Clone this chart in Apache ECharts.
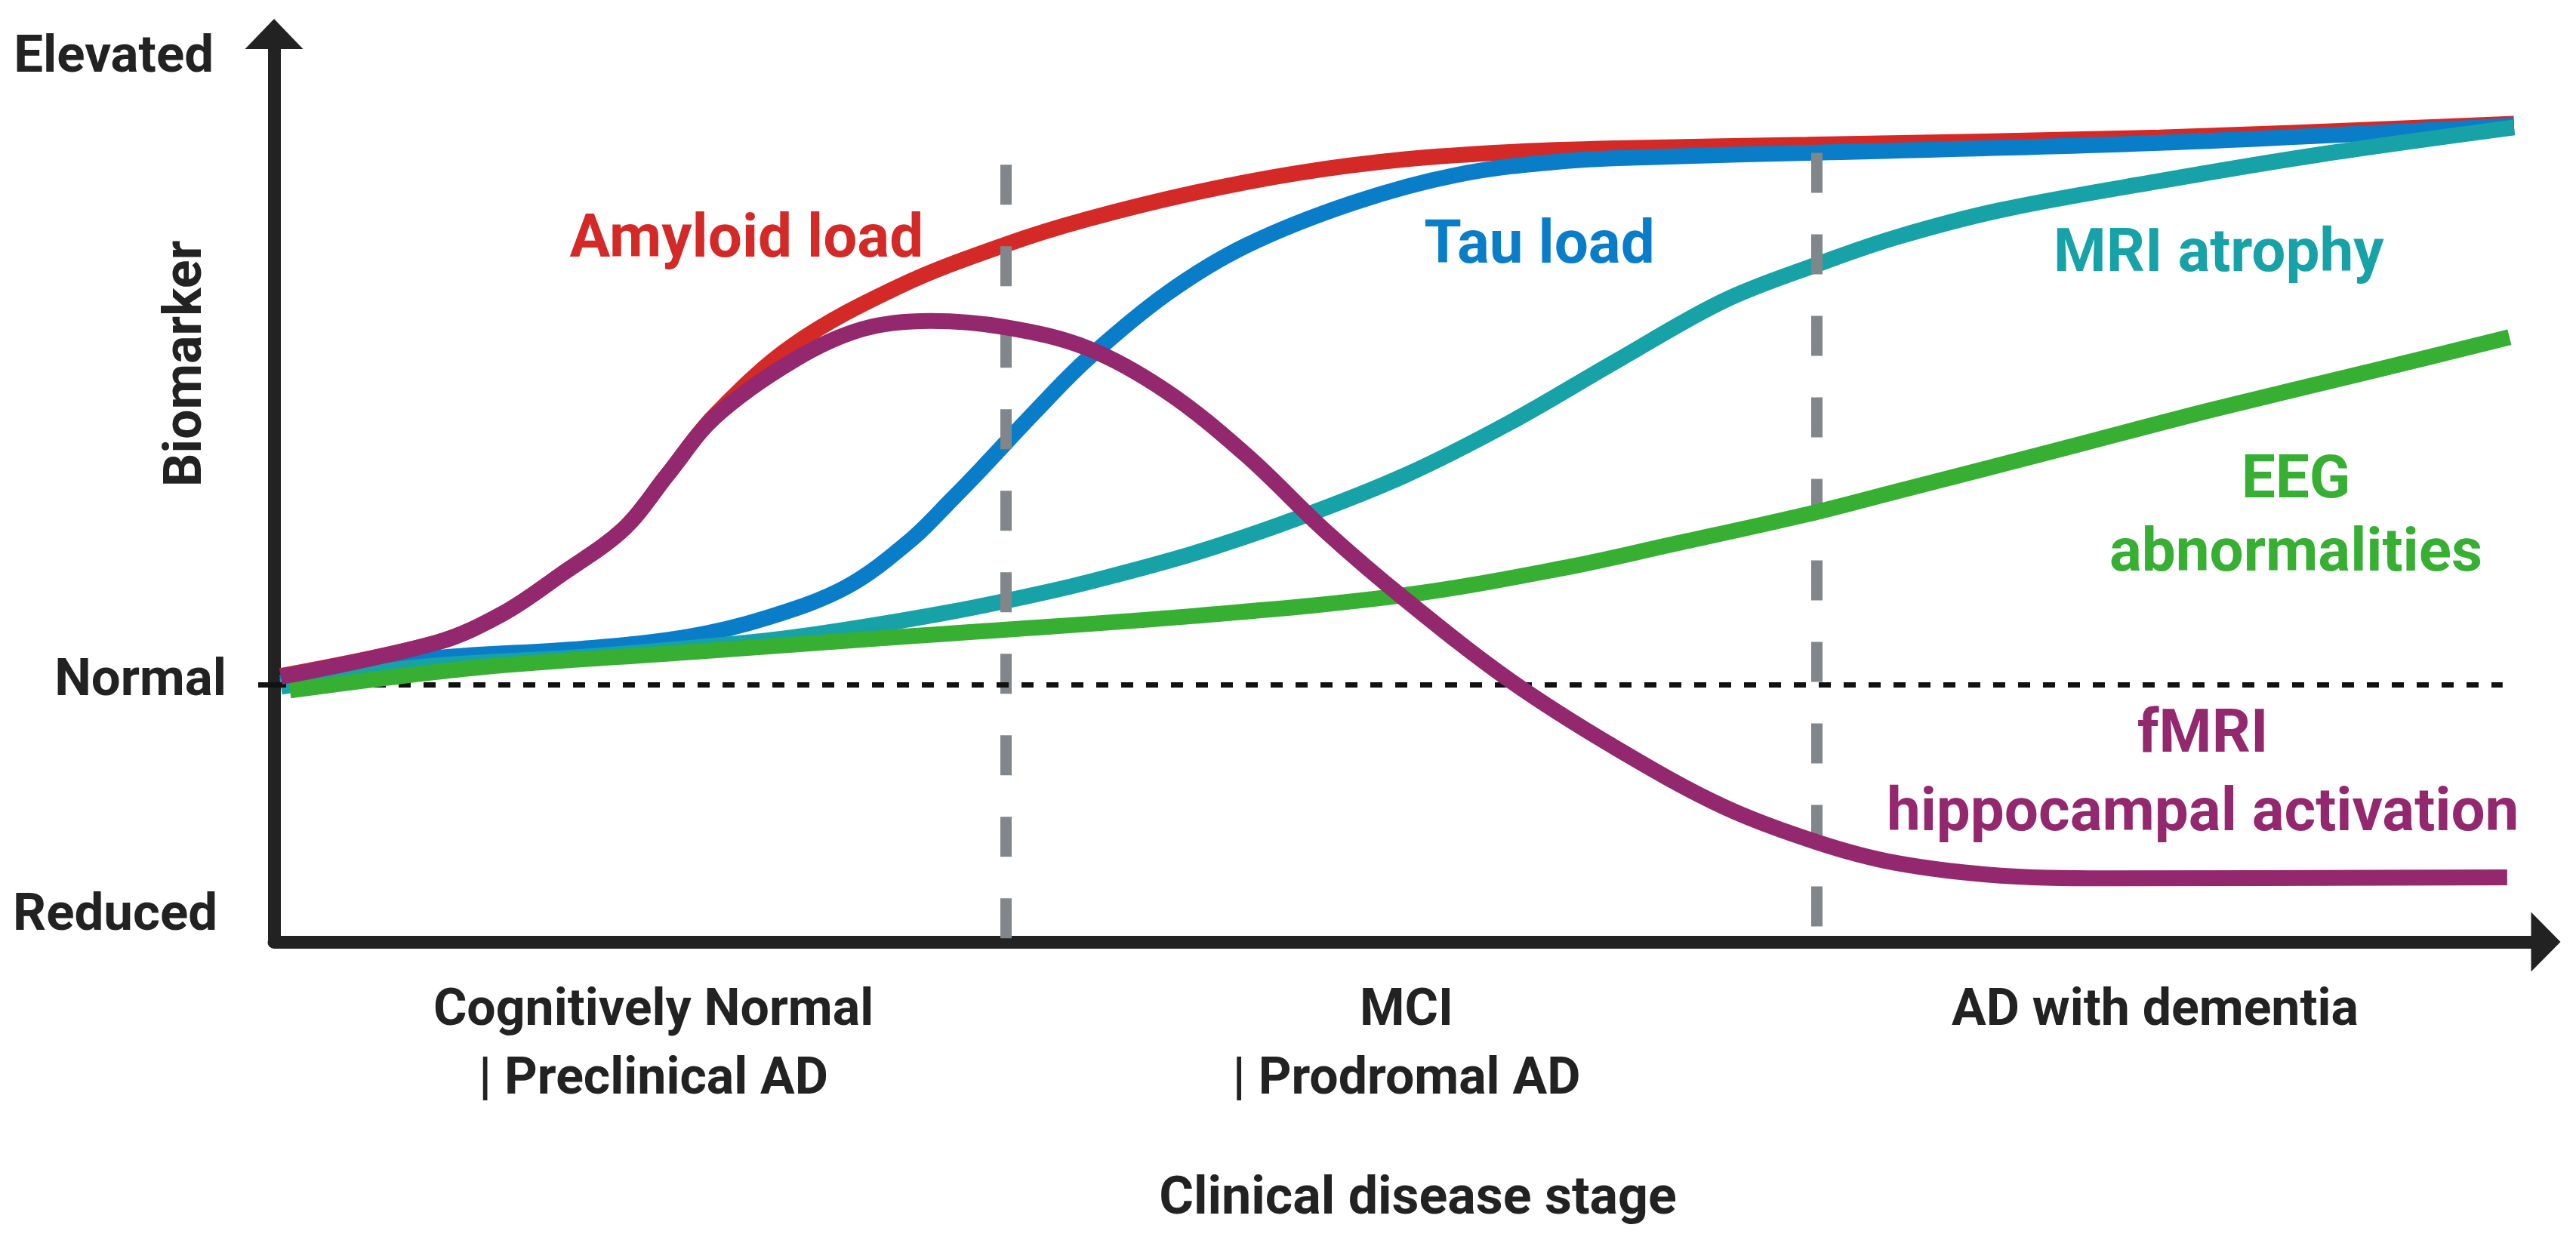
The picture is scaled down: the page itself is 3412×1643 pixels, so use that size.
<!DOCTYPE html>
<html>
<head>
<meta charset="utf-8">
<script src="https://cdn.jsdelivr.net/npm/echarts@6/dist/echarts.min.js"></script>
<style>
html,body{margin:0;padding:0;background:#ffffff;}
#chart{width:3412px;height:1643px;}
</style>
</head>
<body>
<div id="chart"></div>
<script>
// ---------- data (x: disease progression 0-100, y: biomarker level 0-100) ----------
const amyloid = [[0.3,29.3],[7.2,33.0],[10.1,36.2],[12.6,40.4],[15.4,45.5],[17.3,51.4],[19.4,58.0],[22.9,65.8],[27.6,72.3],[32.2,76.8],[35.8,79.6],[40.5,82.5],[45.1,84.7],[49.8,86.2],[54.4,87.0],[59.1,87.4],[67.5,87.8],[83.0,88.6],[98.6,90.1]];
const tau = [[0.3,28.5],[6.5,31.1],[13.6,32.3],[18.2,33.6],[21.7,35.7],[25.2,39.1],[28.0,44.2],[29.9,48.9],[31.1,52.0],[33.5,58.4],[35.8,64.2],[39.3,71.4],[42.8,76.7],[47.5,81.4],[52.1,84.5],[56.8,86.0],[61.4,86.5],[67.5,86.9],[83.0,88.0],[98.6,89.9]];
const mriAtrophy = [[0.3,28.1],[6.5,30.3],[13.6,31.4],[21.7,33.2],[25.2,34.4],[29.9,36.4],[33.4,38.2],[35.8,39.6],[40.5,42.8],[45.1,46.7],[49.8,51.4],[54.4,57.2],[59.1,64.0],[63.8,70.6],[67.9,74.6],[71.4,77.6],[76.0,80.6],[83.0,83.8],[90.0,86.7],[98.6,89.7]];
const eeg = [[0.7,27.7],[8.9,30.2],[18.2,31.9],[27.6,33.6],[31.1,34.2],[40.5,35.9],[49.8,38.2],[56.8,41.2],[61.4,43.7],[67.5,47.1],[71.4,49.6],[78.4,54.1],[85.3,58.6],[92.4,62.9],[98.4,66.6]];
const fmri = [[0.3,29.2],[7.2,33.0],[10.1,36.2],[12.6,40.4],[15.4,45.5],[17.3,51.4],[19.4,57.8],[22.9,64.1],[25.9,67.5],[28.9,68.4],[32.2,67.7],[35.8,65.4],[39.3,60.6],[42.8,53.6],[46.3,45.2],[49.8,37.7],[54.4,28.8],[59.1,21.3],[63.8,14.9],[67.9,11.0],[71.4,8.7],[76.0,7.3],[80.7,7.0],[98.3,7.1]];

const seriesNames = ['Amyloid load','Tau load','MRI atrophy','EEG\nabnormalities','fMRI\nhippocampal activation'];
const labelAnchors = [[20.8,77.1],[55.7,76.45],[85.6,75.55],[89.0,46.6],[84.9,18.25]];

const normalLevel = 28.35;
const normalLineEnd = 98.1;
const stageBounds = [32.2, 67.9];
const stageBoundTops = [85.6, 86.9];

const stageCenters = [16.7, 49.85, 82.8];
const stageLabels = ['Cognitively Normal\n| Preclinical AD', 'MCI\n| Prodromal AD', 'AD with dementia'];

const yLabelValues = [2.8, 28.6, 97.3];
const yLabels = ['Reduced', 'Normal', 'Elevated'];

// ---------- styling ----------
const colors = ['#D32A28', '#0A7DC9', '#17A2A8', '#36AF33', '#93286E'];
const ink = '#222222';
const FONT = 'Roboto';

const lineData = [amyloid, tau, mriAtrophy, eeg, fmri];
const lineSeries = lineData.map((d, i) => ({
  type: 'line',
  name: seriesNames[i],
  data: d,
  showSymbol: false,
  smooth: 0.35,
  z: 2 + i,
  lineStyle: { color: colors[i], width: 21, cap: 'butt' },
  itemStyle: { color: colors[i] },
  silent: true
}));

const guideSeries = {
  type: 'line',
  data: [],
  silent: true,
  z: 10,
  markLine: {
    silent: true,
    symbol: ['none', 'none'],
    label: { show: false },
    animation: false,
    data: [
      [{ coord: [stageBounds[0], stageBoundTops[0]], lineStyle: { color: '#80868A', width: 15, type: [53, 55] } },
       { coord: [stageBounds[0], 0] }],
      [{ coord: [stageBounds[1], stageBoundTops[1]], lineStyle: { color: '#80868A', width: 15, type: [53, 55] } },
       { coord: [stageBounds[1], 0] }],
      [{ coord: [0, normalLevel], lineStyle: { color: '#111111', width: 7, type: [16, 17] } },
       { coord: [normalLineEnd, normalLevel] }]
    ]
  }
};

const lineHeights = [90, 90, 90, 97, 104];
const labelSeries = {
  type: 'scatter',
  symbolSize: 1,
  z: 20,
  silent: true,
  itemStyle: { color: 'transparent', opacity: 1 },
  label: {
    show: true,
    position: 'inside',
    formatter: '{b}',
    fontFamily: FONT,
    fontWeight: 'bold',
    fontSize: 80,
    opacity: 1,
    align: 'center',
    verticalAlign: 'middle'
  },
  data: labelAnchors.map((p, i) => ({
    name: seriesNames[i],
    value: p,
    label: { color: colors[i], lineHeight: lineHeights[i], opacity: 1 }
  }))
};

const chart = echarts.init(document.getElementById('chart'), null, { renderer: 'canvas' });
chart.setOption({
  animation: false,
  backgroundColor: '#ffffff',
  grid: { left: 363, right: 40, top: 45, bottom: 395, containLabel: false, outerBoundsMode: 'none' },
  xAxis: {
    type: 'value', min: 0, max: 100,
    name: 'Clinical disease stage',
    nameLocation: 'middle',
    nameGap: 307,
    nameMoveOverlap: false,
    nameTextStyle: { fontFamily: FONT, fontWeight: 'bold', fontSize: 70, color: ink, padding: [0, 0, 0, 21] },
    axisLine: { show: true, symbol: ['none', 'triangle'], symbolSize: [79, 39], lineStyle: { color: ink, width: 17, cap: 'round' } },
    axisTick: { show: false },
    splitLine: { show: false },
    axisLabel: {
      customValues: stageCenters,
      formatter: v => stageLabels[stageCenters.indexOf(v)] || '',
      margin: 47,
      fontFamily: FONT, fontWeight: 'bold', fontSize: 68, lineHeight: 91, color: ink, align: 'center'
    }
  },
  yAxis: {
    type: 'value', min: 0, max: 100,
    name: 'Biomarker',
    nameLocation: 'middle',
    nameRotate: 90,
    nameGap: 80,
    nameMoveOverlap: false,
    nameTextStyle: { fontFamily: FONT, fontWeight: 'bold', fontSize: 70, color: ink, padding: [0, 0, 0, 329] },
    axisLine: { show: true, symbol: ['none', 'triangle'], symbolSize: [77, 40], lineStyle: { color: ink, width: 17, cap: 'round' } },
    axisTick: { show: true, customValues: [normalLevel], length: 21, inside: false, lineStyle: { color: '#111111', width: 7 } },
    splitLine: { show: false },
    axisLabel: {
      customValues: yLabelValues,
      formatter: v => {
        const i = yLabelValues.indexOf(v);
        return i < 0 ? '' : '{l' + i + '|' + yLabels[i] + '}';
      },
      margin: 63,
      fontFamily: FONT, fontWeight: 'bold', fontSize: 69, color: ink,
      rich: {
        l0: { fontFamily: FONT, fontWeight: 'bold', fontSize: 69, color: ink, padding: [0, 12, 0, 0] },
        l1: { fontFamily: FONT, fontWeight: 'bold', fontSize: 69, color: ink, padding: [0, 0, 0, 0] },
        l2: { fontFamily: FONT, fontWeight: 'bold', fontSize: 69, color: ink, padding: [0, 17, 0, 0] }
      }
    }
  },
  series: [...lineSeries, guideSeries, labelSeries]
});
</script>
</body>
</html>
